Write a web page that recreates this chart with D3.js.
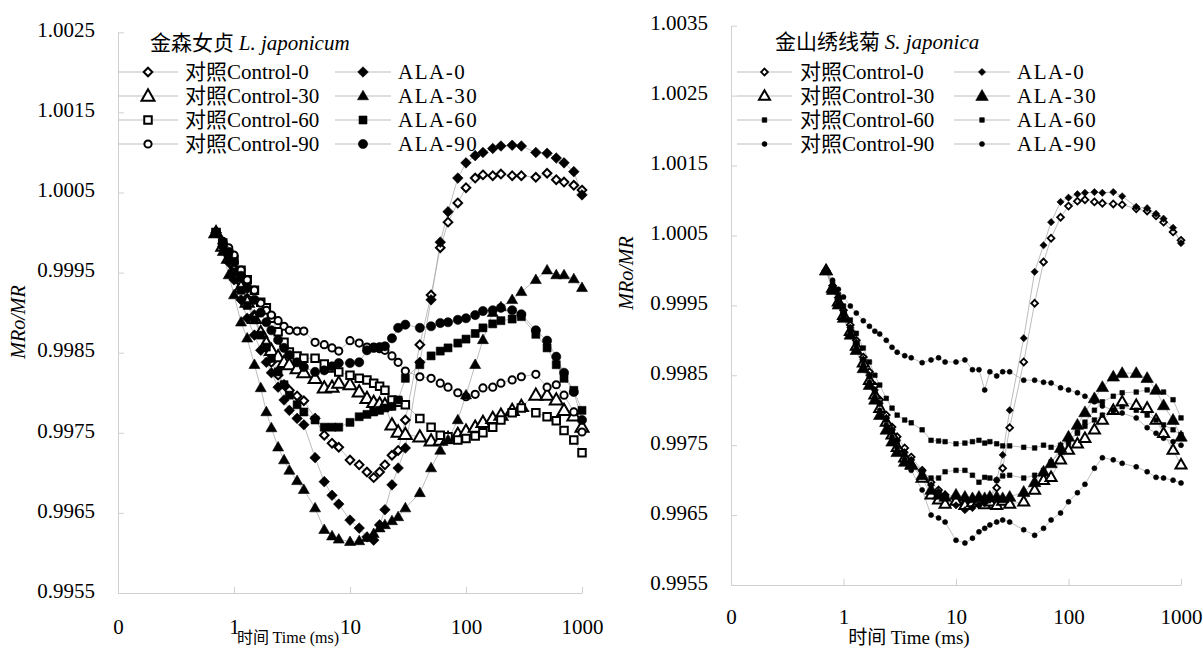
<!DOCTYPE html>
<html>
<head>
<meta charset="utf-8">
<script src="https://cdn.jsdelivr.net/npm/d3@7"></script>
<style>
  body { margin: 0; background: #fff; }
</style>
</head>
<body>
<svg id="chart" width="1203" height="650"></svg>
<script>
// Sampling times of the MR820 kinetics (ms)
const timeMs = [0.7, 0.8, 0.9, 1.0, 1.15, 1.3, 1.5, 1.7, 1.9, 2.1, 2.4, 2.7, 3.0, 3.5, 4, 5, 6, 7, 8, 10,
  12, 14, 16, 18, 20, 23, 26, 30, 40, 50, 60, 70, 85, 100, 120, 140, 170, 200, 250, 300,
  400, 500, 600, 700, 850, 1000];

// legend labels: Chinese prefix + Latin part
const seriesPrefix = ["对照", "对照", "对照", "对照", "", "", "", ""];
const seriesNames = ["Control-0", "Control-30", "Control-60", "Control-90", "ALA-0", "ALA-30", "ALA-60", "ALA-90"];

// 金森女贞 L. japonicum — MRo/MR
const ljControl0 = [1.0000, 0.99986, 0.99971, 0.99956, 0.99937, 0.99918, 0.99897, 0.99874, 0.99856, 0.99838, 0.99822, 0.99810, 0.99803, 0.99796, 0.99790, 0.99768, 0.99747, 0.99737, 0.99732, 0.99716, 0.99710, 0.99701, 0.99694, 0.99701, 0.99710, 0.99722, 0.99728, 0.99766, 0.99860, 0.99922, 0.99981, 1.00013, 1.00037, 1.00056, 1.00068, 1.00072, 1.00071, 1.00073, 1.00071, 1.00071, 1.00069, 1.00074, 1.00066, 1.00063, 1.00059, 1.00053];
const ljControl30 = [1.0000, 0.99983, 0.99968, 0.99953, 0.99932, 0.99913, 0.99893, 0.99875, 0.99862, 0.99853, 0.99845, 0.99838, 0.99835, 0.99830, 0.99825, 0.99818, 0.99806, 0.99807, 0.99812, 0.99810, 0.99801, 0.99793, 0.99788, 0.99786, 0.99785, 0.99760, 0.99751, 0.99748, 0.99745, 0.99740, 0.99741, 0.99743, 0.99748, 0.99752, 0.99757, 0.99763, 0.99768, 0.99772, 0.99778, 0.99783, 0.99797, 0.99797, 0.99791, 0.99778, 0.99771, 0.99757];
const ljControl60 = [1.0000, 0.99987, 0.99974, 0.99966, 0.99953, 0.99941, 0.99928, 0.99913, 0.99906, 0.99893, 0.99876, 0.99863, 0.99851, 0.99846, 0.99843, 0.99843, 0.99836, 0.99831, 0.99826, 0.99822, 0.99818, 0.99816, 0.99812, 0.99808, 0.99803, 0.99791, 0.99788, 0.99785, 0.99768, 0.99757, 0.99747, 0.99745, 0.99741, 0.99743, 0.99746, 0.99750, 0.99757, 0.99766, 0.99775, 0.99781, 0.99775, 0.99770, 0.99765, 0.99753, 0.99741, 0.99725];
const ljControl90 = [1.0000, 0.99989, 0.99981, 0.99972, 0.99953, 0.99941, 0.99928, 0.99912, 0.99903, 0.99897, 0.99890, 0.99883, 0.99878, 0.99877, 0.99877, 0.99863, 0.99860, 0.99856, 0.99852, 0.99865, 0.99862, 0.99857, 0.99857, 0.99855, 0.99853, 0.99846, 0.99838, 0.99827, 0.99820, 0.99818, 0.99812, 0.99807, 0.99800, 0.99795, 0.99798, 0.99806, 0.99807, 0.99812, 0.99816, 0.99820, 0.99823, 0.99807, 0.99810, 0.99797, 0.99776, 0.99751];
const ljAla0 = [1.0000, 0.99983, 0.99963, 0.99941, 0.99916, 0.99893, 0.99872, 0.99853, 0.99838, 0.99825, 0.99807, 0.99791, 0.99778, 0.99768, 0.99760, 0.99719, 0.99689, 0.99672, 0.99661, 0.99641, 0.99631, 0.99620, 0.99616, 0.99635, 0.99654, 0.99685, 0.99706, 0.99731, 0.99838, 0.99916, 0.99988, 1.00026, 1.00068, 1.00087, 1.00096, 1.00100, 1.00105, 1.00108, 1.00109, 1.00108, 1.00100, 1.00099, 1.00093, 1.00087, 1.00076, 1.00047];
const ljAla30 = [1.0000, 0.99976, 0.99947, 0.99922, 0.99888, 0.99868, 0.99835, 0.99806, 0.99776, 0.99756, 0.99732, 0.99716, 0.99703, 0.99690, 0.99679, 0.99656, 0.99629, 0.99621, 0.99617, 0.99614, 0.99615, 0.99619, 0.99624, 0.99631, 0.99635, 0.99640, 0.99645, 0.99656, 0.99675, 0.99706, 0.99728, 0.99741, 0.99766, 0.99797, 0.99835, 0.99866, 0.99900, 0.99907, 0.99916, 0.99926, 0.99941, 0.99953, 0.99947, 0.99947, 0.99942, 0.99931];
const ljAla60 = [1.0000, 0.99984, 0.99968, 0.99951, 0.99928, 0.99909, 0.99891, 0.99872, 0.99857, 0.99843, 0.99826, 0.99810, 0.99797, 0.99785, 0.99776, 0.99766, 0.99757, 0.99757, 0.99757, 0.99763, 0.99770, 0.99773, 0.99776, 0.99778, 0.99781, 0.99783, 0.99791, 0.99818, 0.99835, 0.99846, 0.99852, 0.99856, 0.99862, 0.99867, 0.99874, 0.99881, 0.99886, 0.99890, 0.99892, 0.99895, 0.99873, 0.99856, 0.99835, 0.99818, 0.99803, 0.99778];
const ljAla90 = [1.0000, 0.99987, 0.99976, 0.99963, 0.99946, 0.99931, 0.99916, 0.99900, 0.99888, 0.99878, 0.99866, 0.99856, 0.99847, 0.99838, 0.99832, 0.99826, 0.99828, 0.99833, 0.99837, 0.99837, 0.99838, 0.99853, 0.99856, 0.99857, 0.99858, 0.99868, 0.99881, 0.99885, 0.99881, 0.99883, 0.99887, 0.99888, 0.99891, 0.99893, 0.99897, 0.99902, 0.99903, 0.99906, 0.99903, 0.99898, 0.99878, 0.99865, 0.99845, 0.99825, 0.99801, 0.99766];

// 金山绣线菊 S. japonica — MRo/MR
const sjControl0 = [1.0000, 0.99978, 0.99961, 0.99943, 0.99922, 0.99900, 0.99876, 0.99855, 0.99835, 0.99815, 0.99793, 0.99776, 0.99762, 0.99746, 0.99733, 0.99714, 0.99697, 0.99686, 0.99679, 0.99672, 0.99667, 0.99664, 0.99667, 0.99672, 0.99674, 0.99689, 0.99717, 0.99775, 0.99869, 0.99953, 1.00012, 1.00046, 1.00076, 1.00092, 1.00099, 1.00101, 1.00098, 1.00096, 1.00095, 1.00094, 1.00088, 1.00085, 1.00078, 1.00069, 1.00055, 1.00043];
const sjControl30 = [1.0000, 0.99975, 0.99955, 0.99936, 0.99913, 0.99892, 0.99868, 0.99843, 0.99822, 0.99803, 0.99783, 0.99765, 0.99747, 0.99732, 0.99722, 0.99703, 0.99679, 0.99672, 0.99666, 0.99670, 0.99664, 0.99668, 0.99671, 0.99665, 0.99669, 0.99664, 0.99670, 0.99666, 0.99669, 0.99686, 0.99700, 0.99704, 0.99729, 0.99743, 0.99752, 0.99760, 0.99772, 0.99786, 0.99800, 0.99812, 0.99807, 0.99803, 0.99786, 0.99767, 0.99743, 0.99722];
const sjControl60 = [1.0000, 0.99981, 0.99965, 0.99949, 0.99929, 0.99910, 0.99889, 0.99869, 0.99850, 0.99836, 0.99817, 0.99803, 0.99793, 0.99786, 0.99782, 0.99772, 0.99757, 0.99756, 0.99755, 0.99752, 0.99753, 0.99755, 0.99757, 0.99753, 0.99755, 0.99752, 0.99749, 0.99749, 0.99747, 0.99746, 0.99750, 0.99747, 0.99750, 0.99757, 0.99767, 0.99777, 0.99786, 0.99793, 0.99800, 0.99805, 0.99800, 0.99793, 0.99786, 0.99779, 0.99772, 0.99765];
const sjControl90 = [1.0000, 0.99986, 0.99973, 0.99962, 0.99949, 0.99939, 0.99928, 0.99920, 0.99913, 0.99909, 0.99900, 0.99890, 0.99883, 0.99878, 0.99875, 0.99868, 0.99872, 0.99875, 0.99869, 0.99869, 0.99872, 0.99858, 0.99858, 0.99829, 0.99855, 0.99849, 0.99855, 0.99855, 0.99843, 0.99843, 0.99840, 0.99839, 0.99832, 0.99829, 0.99825, 0.99820, 0.99812, 0.99806, 0.99800, 0.99796, 0.99789, 0.99775, 0.99767, 0.99760, 0.99755, 0.99750];
const sjAla0 = [1.0000, 0.99976, 0.99958, 0.99939, 0.99918, 0.99896, 0.99872, 0.99850, 0.99829, 0.99810, 0.99789, 0.99772, 0.99757, 0.99740, 0.99729, 0.99712, 0.99693, 0.99683, 0.99676, 0.99664, 0.99657, 0.99660, 0.99664, 0.99667, 0.99672, 0.99700, 0.99736, 0.99800, 0.99903, 0.99998, 1.00036, 1.00069, 1.00098, 1.00104, 1.00109, 1.00111, 1.00112, 1.00111, 1.00112, 1.00106, 1.00091, 1.00089, 1.00081, 1.00074, 1.00061, 1.00039];
const sjAla30 = [1.0000, 0.99972, 0.99951, 0.99932, 0.99908, 0.99886, 0.99860, 0.99836, 0.99815, 0.99793, 0.99772, 0.99755, 0.99740, 0.99726, 0.99722, 0.99707, 0.99686, 0.99679, 0.99676, 0.99679, 0.99676, 0.99674, 0.99676, 0.99674, 0.99676, 0.99676, 0.99674, 0.99676, 0.99683, 0.99697, 0.99712, 0.99724, 0.99746, 0.99762, 0.99779, 0.99797, 0.99817, 0.99833, 0.99848, 0.99853, 0.99853, 0.99846, 0.99829, 0.99807, 0.99786, 0.99762];
const sjAla60 = [1.0000, 0.99976, 0.99958, 0.99940, 0.99918, 0.99896, 0.99872, 0.99848, 0.99826, 0.99809, 0.99786, 0.99769, 0.99755, 0.99736, 0.99724, 0.99712, 0.99703, 0.99703, 0.99712, 0.99714, 0.99714, 0.99707, 0.99697, 0.99704, 0.99703, 0.99700, 0.99706, 0.99707, 0.99703, 0.99707, 0.99714, 0.99726, 0.99740, 0.99753, 0.99769, 0.99783, 0.99800, 0.99812, 0.99820, 0.99825, 0.99826, 0.99829, 0.99829, 0.99826, 0.99815, 0.99789];
const sjAla90 = [1.0000, 0.99975, 0.99955, 0.99936, 0.99912, 0.99889, 0.99865, 0.99840, 0.99819, 0.99800, 0.99779, 0.99762, 0.99746, 0.99729, 0.99714, 0.99686, 0.99650, 0.99646, 0.99640, 0.99614, 0.99610, 0.99617, 0.99626, 0.99631, 0.99636, 0.99640, 0.99643, 0.99640, 0.99629, 0.99621, 0.99631, 0.99643, 0.99653, 0.99669, 0.99682, 0.99694, 0.99717, 0.99732, 0.99729, 0.99724, 0.99719, 0.99712, 0.99704, 0.99703, 0.99700, 0.99696];

// Axis ticks
const xTickValues = [0.1, 1, 10, 100, 1000];
const ljYTicks = [0.9955, 0.9965, 0.9975, 0.9985, 0.9995, 1.0005, 1.0015, 1.0025];
const sjYTicks = [0.9955, 0.9965, 0.9975, 0.9985, 0.9995, 1.0005, 1.0015, 1.0025, 1.0035];

// ---------------------------------------------------------------------------
const SERIF = "'Liberation Serif', 'Times New Roman', serif";
const CJK = "'Noto Sans CJK SC', sans-serif";
const AXIS_GREY = "#d0d0d0";
const LINE_GREY = "#ababab";

const svg = d3.select("#chart");
svg.append("rect").attr("width", 1203).attr("height", 650).attr("fill", "#fff");

function markerPath(shape, s) {
  switch (shape) {
    case "diamond": return `M0,${-s}L${s},0L0,${s}L${-s},0Z`;
    case "triangle": {
      const h = s * Math.sqrt(3) / 2;
      return `M0,${-h / 2 - 1}L${s / 2},${h / 2 - 1}L${-s / 2},${h / 2 - 1}Z`;
    }
    case "square": return `M${-s / 2},${-s / 2}h${s}v${s}h${-s}Z`;
    case "circle": return `M${s},0A${s},${s} 0 1,1 ${-s},0A${s},${s} 0 1,1 ${s},0Z`;
  }
}

function styleMarker(sel, m) {
  sel.attr("d", markerPath(m.shape, m.size))
    .attr("fill", m.open ? "#fff" : "#000")
    .attr("stroke", "#000")
    .attr("stroke-width", m.open ? m.sw : 0.6);
}

const panels = [
  {
    title: "金森女贞", species: "L. japonicum",
    values: [ljControl0, ljControl30, ljControl60, ljControl90, ljAla0, ljAla30, ljAla60, ljAla90],
    yTicks: ljYTicks, yDomain: [0.9955, 1.0025],
    xRange: [118, 582], yRange: [593, 32.3],
    markers: [
      { shape: "diamond", size: 4.3, open: true, sw: 2 },
      { shape: "triangle", size: 13, open: true, sw: 2 },
      { shape: "square", size: 7.5, open: true, sw: 2 },
      { shape: "circle", size: 3.6, open: true, sw: 2 },
      { shape: "diamond", size: 5.3, open: false },
      { shape: "triangle", size: 11, open: false },
      { shape: "square", size: 8, open: false },
      { shape: "circle", size: 4.6, open: false }
    ],
    titlePos: [150, 43],
    legendRows: [72, 96, 120, 144],
    legendCols: [{ x1: 118, x2: 178, text: 185 }, { x1: 335, x2: 391, text: 398 }],
    yTitle: [18, 322], xTitle: [288, 637, 16], xLabelDy: 35
  },
  {
    title: "金山绣线菊", species: "S. japonica",
    values: [sjControl0, sjControl30, sjControl60, sjControl90, sjAla0, sjAla30, sjAla60, sjAla90],
    yTicks: sjYTicks, yDomain: [0.9955, 1.0035],
    xRange: [731, 1181], yRange: [585, 25.7],
    markers: [
      { shape: "diamond", size: 3.4, open: true, sw: 1.8 },
      { shape: "triangle", size: 11, open: true, sw: 2 },
      { shape: "square", size: 4.6, open: false },
      { shape: "circle", size: 2.5, open: false },
      { shape: "diamond", size: 3.6, open: false },
      { shape: "triangle", size: 12.5, open: false },
      { shape: "square", size: 4.6, open: false },
      { shape: "circle", size: 2.5, open: false }
    ],
    titlePos: [775, 42],
    legendRows: [72, 96, 120, 144],
    legendCols: [{ x1: 737, x2: 792, text: 800 }, { x1: 954, x2: 1010, text: 1017 }],
    yTitle: [626, 273], xTitle: [909, 637, 19], xLabelDy: 33
  }
];

panels.forEach(p => {
  const x = d3.scaleLog().domain([0.1, 1000]).range(p.xRange);
  const y = d3.scaleLinear().domain(p.yDomain).range(p.yRange);
  const g = svg.append("g");

  // y axis
  const yAxis = g.append("g")
    .attr("transform", `translate(${p.xRange[0]},0)`)
    .call(d3.axisLeft(y).tickValues(p.yTicks).tickFormat(d3.format(".4f"))
      .tickSizeInner(-6).tickSizeOuter(0).tickPadding(23));
  yAxis.attr("font-family", null);
  yAxis.select(".domain").attr("stroke", AXIS_GREY);
  yAxis.selectAll(".tick line").attr("stroke", AXIS_GREY);
  yAxis.selectAll(".tick text").style("font-family", SERIF).attr("font-size", 21)
    .attr("fill", "#000").attr("dy", "0.2em");

  // x axis (log scale, first tick printed as 0)
  const xAxis = g.append("g")
    .attr("transform", `translate(0,${p.yRange[0]})`)
    .call(d3.axisBottom(x).tickValues(xTickValues)
      .tickFormat(d => d < 1 ? "0" : String(d))
      .tickSizeInner(-6).tickSizeOuter(0));
  xAxis.attr("font-family", null);
  xAxis.select(".domain").attr("stroke", AXIS_GREY);
  xAxis.selectAll(".tick line").attr("stroke", AXIS_GREY);
  xAxis.selectAll(".tick text").style("font-family", SERIF).attr("font-size", 21)
    .attr("fill", "#000").attr("y", p.xLabelDy).attr("dy", "0.3em");

  // axis titles
  g.append("text")
    .attr("transform", `translate(${p.yTitle[0]},${p.yTitle[1]}) rotate(-90)`)
    .attr("text-anchor", "middle").attr("dy", "0.35em")
    .style("font-family", SERIF).attr("font-size", 20).attr("font-style", "italic")
    .text("MRo/MR");
  const xt = g.append("text")
    .attr("x", p.xTitle[0]).attr("y", p.xTitle[1])
    .attr("text-anchor", "middle").attr("dy", "0.35em")
    .attr("font-size", p.xTitle[2]);
  xt.append("tspan").style("font-family", CJK).text("时间 ");
  xt.append("tspan").style("font-family", SERIF).text("Time (ms)");

  // series lines
  const line = d3.line().x((d, i) => x(timeMs[i])).y(d => y(d));
  p.values.forEach(vals => {
    g.append("path").datum(vals)
      .attr("d", line).attr("fill", "none")
      .attr("stroke", LINE_GREY).attr("stroke-width", 0.8);
  });

  // series markers
  p.values.forEach((vals, si) => {
    const m = p.markers[si];
    g.append("g").selectAll("path").data(vals).join("path")
      .attr("transform", (d, i) => `translate(${x(timeMs[i])},${y(d)})`)
      .call(styleMarker, m);
  });

  // legend title
  const tt = g.append("text").attr("x", p.titlePos[0]).attr("y", p.titlePos[1])
    .attr("dy", "0.35em").attr("font-size", 21);
  tt.append("tspan").style("font-family", CJK).text(p.title + " ");
  tt.append("tspan").style("font-family", SERIF).attr("font-style", "italic").text(p.species);

  // legend entries: controls on the left column, ALA on the right
  seriesNames.forEach((name, si) => {
    const col = p.legendCols[si < 4 ? 0 : 1];
    const ry = p.legendRows[si % 4];
    const lg = g.append("g");
    lg.append("line").attr("x1", col.x1).attr("x2", col.x2).attr("y1", ry).attr("y2", ry)
      .attr("stroke", "#bdbdbd").attr("stroke-width", 1);
    lg.append("path").attr("transform", `translate(${(col.x1 + col.x2) / 2},${ry})`)
      .call(styleMarker, p.markers[si]);
    const t = lg.append("text").attr("x", col.text).attr("y", ry).attr("dy", "0.35em")
      .attr("font-size", 21);
    if (seriesPrefix[si]) t.append("tspan").style("font-family", CJK).text(seriesPrefix[si]);
    t.append("tspan").style("font-family", SERIF)
      .attr("letter-spacing", si < 4 ? 0 : 1.5).text(name);
  });
});
</script>
</body>
</html>
